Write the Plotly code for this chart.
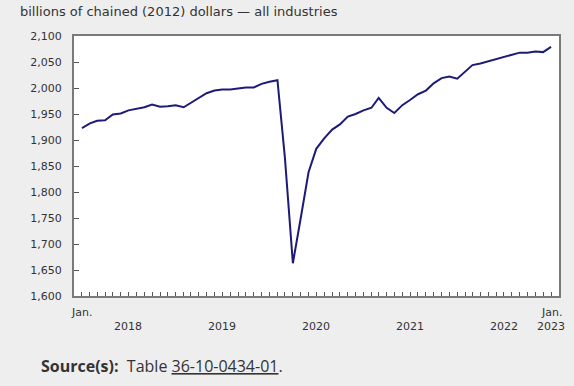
import plotly.graph_objects as go
import pandas as pd

months = pd.date_range("2018-01-01", "2023-01-01", freq="MS")
gdp = [
    1923, 1932, 1937, 1938, 1949, 1951, 1957, 1960, 1963, 1968, 1964, 1965,  # 2018
    1967, 1963, 1971, 1981, 1990, 1995, 1997, 1997, 1999, 2001, 2001, 2008,  # 2019
    2012, 2015, 1866, 1663, 1748, 1838, 1883, 1903, 1920, 1930, 1945, 1950,  # 2020
    1957, 1962, 1981, 1962, 1952, 1967, 1977, 1988, 1995, 2009, 2019, 2022,  # 2021
    2018, 2031, 2044, 2047, 2051, 2056, 2060, 2064, 2068, 2068, 2070, 2069,  # 2022
    2079,                                                                    # 2023
]
year_labels = ["2018", "2019", "2020", "2021", "2022"]
year_label_pos = ["2018-07-01", "2019-07-01", "2020-07-01", "2021-07-01", "2022-07-01"]
major_ticks = ["2018-01-01", "2019-01-01", "2020-01-01", "2021-01-01", "2022-01-01", "2023-01-01"]

BG = "#eeeeee"
AX = "#7a7a7a"
TXT = "#333333"
FONT = "DejaVu Sans"

fig = go.Figure()
fig.add_trace(go.Scatter(
    x=months, y=gdp, mode="lines",
    line=dict(color="#1c1c78", width=2),
    hoverinfo="skip", showlegend=False,
))

fig.update_layout(
    width=574, height=386,
    margin=dict(l=74, r=15, t=36, b=90),
    paper_bgcolor=BG, plot_bgcolor="white",
    font=dict(family=FONT, size=11, color=TXT),
    showlegend=False,
)
fig.update_xaxes(
    range=["2017-12-01", "2023-02-01"],
    showgrid=False, zeroline=False,
    showline=True, linecolor=AX, linewidth=2, mirror=True,
    tickmode="array", tickvals=major_ticks, ticktext=[""] * len(major_ticks),
    ticks="inside", ticklen=14, tickcolor="#555555", tickwidth=1,
    showticklabels=False,
    minor=dict(ticks="inside", ticklen=4, tickcolor="#555555", tickwidth=1,
               dtick="M1", tick0="2018-01-01", showgrid=False),
)
fig.update_yaxes(
    range=[1600, 2100], dtick=50, tick0=1600,
    showgrid=False, zeroline=False,
    showline=True, linecolor=AX, linewidth=2, mirror=True,
    ticks="inside", ticklen=5, tickcolor="#555555", tickwidth=1,
    tickformat=",", separatethousands=True,
    ticklabelstandoff=8,
    tickfont=dict(family=FONT, size=11, color=TXT),
)

annotations = []
# Title
annotations.append(dict(
    text="billions of chained (2012) dollars — all industries",
    xref="paper", yref="paper", x=-56/485, y=1 + 24/260,
    xanchor="left", yanchor="middle", showarrow=False,
    font=dict(family=FONT, size=13, color=TXT),
))
# "Jan." labels
for xv in [major_ticks[0], major_ticks[-1]]:
    annotations.append(dict(
        text="Jan.", xref="x", yref="paper", x=xv, y=-16/260,
        xanchor="center", yanchor="middle", showarrow=False,
        font=dict(family=FONT, size=11, color=TXT),
    ))
for lab, pos in zip(year_labels, year_label_pos):
    annotations.append(dict(
        text=lab, xref="x", yref="paper", x=pos, y=-30/260,
        xanchor="center", yanchor="middle", showarrow=False,
        font=dict(family=FONT, size=11, color=TXT),
    ))
annotations.append(dict(
    text="2023", xref="x", yref="paper", x=major_ticks[-1], y=-30/260,
    xanchor="center", yanchor="middle", showarrow=False,
    font=dict(family=FONT, size=11, color=TXT),
))
# Source line
annotations.append(dict(
    text='<b>Source(s):</b>  Table <span style="text-decoration:underline">36-10-0434-01</span>.',
    xref="paper", yref="paper", x=-35/485, y=-70/260,
    xanchor="left", yanchor="middle", showarrow=False,
    font=dict(family="Open Sans", size=16, color=TXT),
))
fig.update_layout(annotations=annotations)

fig.write_html(
    "out.html",
    config={"displayModeBar": False},
    post_script="document.body.style.margin='0';document.body.style.overflow='hidden';",
)
